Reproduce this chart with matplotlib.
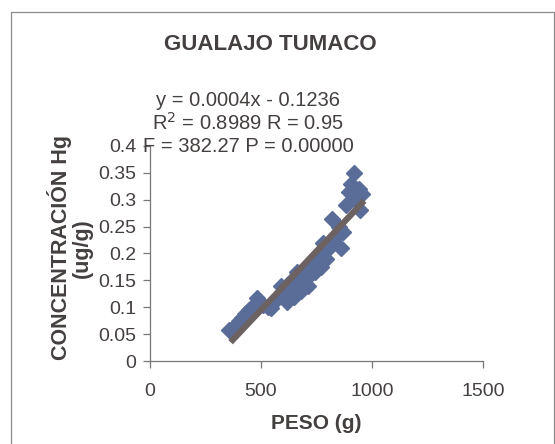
import numpy as np
import matplotlib.pyplot as plt
from matplotlib.patches import Rectangle

plt.rcParams['font.family'] = ['Liberation Sans', 'DejaVu Sans']

# peso (g) vs concentracion Hg (ug/g)
peso = [355, 375, 390, 400, 415, 430, 445, 460, 480, 495, 510, 530, 545,
        560, 575, 590, 600, 615, 625, 640, 650, 660, 670, 680, 690, 700,
        710, 720, 735, 745, 760, 770, 780, 795, 805, 820, 835, 850, 860,
        870, 885, 895, 905, 920, 930, 940, 945, 955]
conc = [0.058, 0.055, 0.068, 0.075, 0.080, 0.088, 0.095, 0.100, 0.118,
        0.110, 0.105, 0.100, 0.098, 0.110, 0.120, 0.140, 0.125, 0.110,
        0.130, 0.150, 0.120, 0.165, 0.140, 0.130, 0.150, 0.170, 0.140,
        0.160, 0.180, 0.165, 0.200, 0.175, 0.220, 0.190, 0.210, 0.265,
        0.230, 0.250, 0.210, 0.240, 0.290, 0.315, 0.330, 0.350, 0.300,
        0.320, 0.280, 0.310]

# regression line
slope = 0.000437
intercept = -0.1236
x_fit = np.array([min(peso) + 8, max(peso) + 10])

eq_lines = ["y = 0.0004x - 0.1236",
            "R$^2$ = 0.8989 R = 0.95",
            "F = 382.27 P = 0.00000"]

txt = '#454040'
fig = plt.figure(figsize=(5.55, 4.44), dpi=100)
ax = fig.add_axes([150 / 555, 1 - 361 / 444, 333 / 555, 215 / 444])

ax.plot(peso, conc, linestyle='none', marker='D', markersize=8.2,
        color='#5a6c98', markeredgecolor='#5a6c98')
ax.plot(x_fit, slope * x_fit + intercept, color='#6c6262', linewidth=4.5,
        solid_capstyle='butt')

ax.set_xlim(0, 1500)
ax.set_ylim(0, 0.4)
ax.set_xticks([0, 500, 1000, 1500])
ax.set_yticks(np.arange(0, 0.401, 0.05))
ax.set_yticklabels(['0', '0.05', '0.1', '0.15', '0.2', '0.25', '0.3',
                    '0.35', '0.4'])
for s in ['top', 'right']:
    ax.spines[s].set_visible(False)
for s in ['left', 'bottom']:
    ax.spines[s].set_color('#777777')
    ax.spines[s].set_linewidth(0.9)
ax.tick_params(axis='both', colors='#777777', labelcolor=txt, labelsize=14,
               length=5, width=0.9)
ax.tick_params(axis='x', pad=11)
ax.tick_params(axis='y', pad=5)

fig.text(270 / 555, 1 - 44 / 444, "GUALAJO TUMACO", ha='center', va='center',
         fontsize=16, fontweight='bold', color=txt)
for i, line in enumerate(eq_lines):
    fig.text(248 / 555, 1 - (100 + 23 * i) / 444, line, ha='center',
             va='center', fontsize=14.5, color=txt)

fig.text(316 / 555, 1 - 423 / 444, "PESO (g)", ha='center', va='center',
         fontsize=15, fontweight='bold', color=txt)
fig.text(70 / 555, 1 - 248 / 444, "CONCENTRACIÓN Hg\n(ug/g)", ha='center',
         va='center', rotation=90, fontsize=15.5, fontweight='bold',
         color=txt, multialignment='center', linespacing=1.0)

# outer frame of the chart area
fig.patches.append(Rectangle((11 / 555, -0.05), 543 / 555, 1.05 - 12 / 444,
                             transform=fig.transFigure, fill=False,
                             edgecolor='#8a8a8a', linewidth=0.9))

fig.savefig('out.png', dpi=100)
